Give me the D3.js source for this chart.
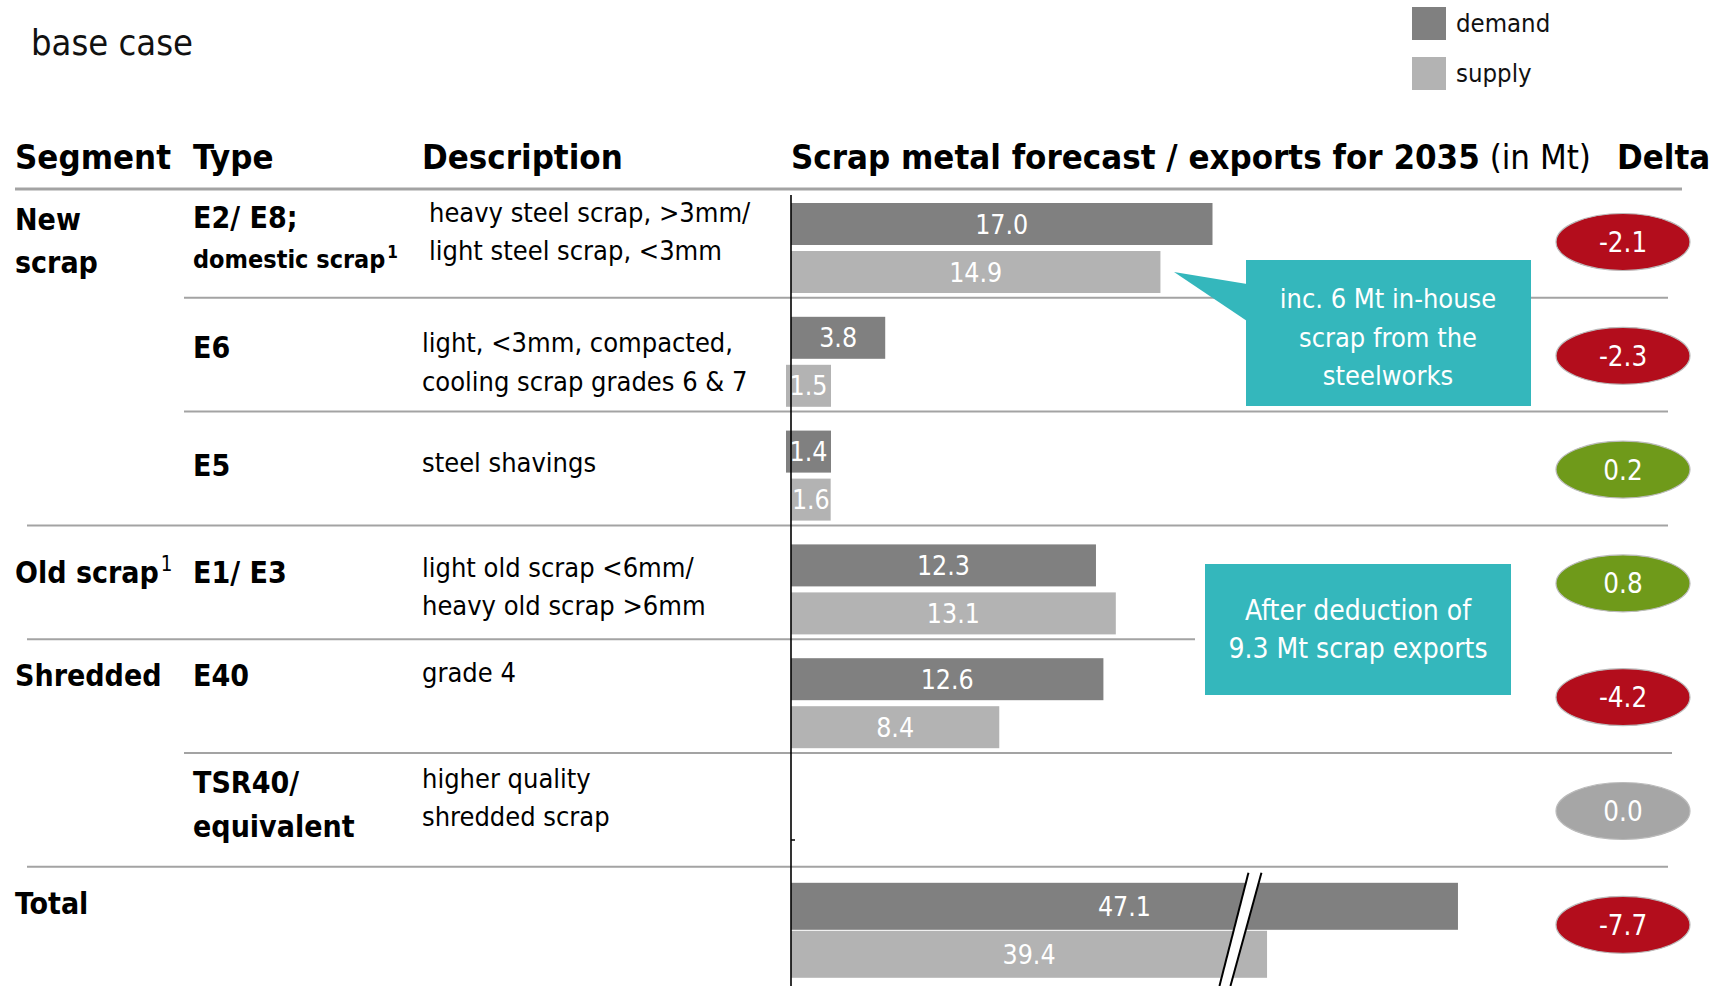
<!DOCTYPE html>
<html>
<head>
<meta charset="utf-8">
<script src="https://cdn.jsdelivr.net/npm/d3@7"></script>
<style>
  html, body { margin: 0; padding: 0; background: #fff; }
  svg { display: block; }
  text { font-family: "DejaVu Sans Condensed", "Liberation Sans Narrow", sans-serif; }
</style>
</head>
<body>
<svg id="chart" width="1716" height="986"></svg>
<script>
// ---- data ----
const segments   = ["New|scrap", "", "", "Old scrap¹", "Shredded", "", "Total"];
const types      = ["E2/ E8;|domestic scrap¹", "E6", "E5", "E1/ E3", "E40", "TSR40/|equivalent", ""];
const descriptions = [
  "heavy steel scrap, >3mm/|light steel scrap, <3mm",
  "light, <3mm, compacted,|cooling scrap grades 6 & 7",
  "steel shavings",
  "light old scrap <6mm/|heavy old scrap >6mm",
  "grade 4",
  "higher quality|shredded scrap",
  ""
];
const demand = [17.0, 3.8, 1.4, 12.3, 12.6, null, 47.1];
const supply = [14.9, 1.5, 1.6, 13.1, 8.4, null, 39.4];
const delta  = [-2.1, -2.3, 0.2, 0.8, -4.2, 0.0, -7.7];
const seriesNames = ["demand", "supply"];
const calloutTexts = [
  ["inc. 6 Mt in-house", "scrap from the", "steelworks"],
  ["After deduction of", "9.3 Mt scrap exports"]
];

// ---- styling ----
const C = {
  demand: "#808080",
  supply: "#b3b3b3",
  teal: "#34b7bc",
  neg: "#b30d1c",
  pos: "#6f9a1a",
  zero: "#a6a6a6",
  rule: "#a3a3a3"
};
const FONT_LIGHT = 300;

const svg = d3.select("#chart");

// value scale for the bars
const axisX = 791;
const x = d3.scaleLinear().domain([0, 17]).range([axisX, 1212.5]);
// the total row is drawn with a broken axis: this many Mt are cut out
const totalCut = 20.2;
const totalIndex = 6;

// row positions
const rowY = d3.scaleLinear().domain([0, 1]).range([184, 297.8]);
const barH = i => (i === totalIndex ? 47 : 42);
const demandTop = i => rowY(i) + (i === totalIndex ? 16 : 19);

const color = d3.scaleOrdinal().domain(seriesNames).range([C.demand, C.supply]);

// ---- title and legend ----
svg.append("text").attr("x", 31).attr("y", 55)
  .attr("font-size", 36).attr("font-weight", FONT_LIGHT).attr("fill", "#111")
  .text("base case");

const legend = svg.append("g");
seriesNames.forEach((s, k) => {
  legend.append("rect").attr("x", 1412).attr("y", 7 + 50 * k)
    .attr("width", 34).attr("height", 33).attr("fill", color(s));
  legend.append("text").attr("x", 1456).attr("y", 32 + 50 * k)
    .attr("font-size", 25.5).attr("fill", "#111").text(s);
});

// ---- column headers ----
const head = svg.append("g").attr("font-size", 34.5).attr("fill", "#000");
head.append("text").attr("x", 15).attr("y", 169).attr("font-weight", "bold").text("Segment");
head.append("text").attr("x", 193).attr("y", 169).attr("font-weight", "bold").text("Type");
head.append("text").attr("x", 422).attr("y", 169).attr("font-weight", "bold").text("Description");
const ht = head.append("text").attr("x", 791).attr("y", 169);
ht.append("tspan").attr("font-weight", "bold").text("Scrap metal forecast / exports for 2035");
ht.append("tspan").attr("font-weight", FONT_LIGHT).text(" (in Mt)");
head.append("text").attr("x", 1617).attr("y", 169).attr("font-weight", "bold").text("Delta");

svg.append("line").attr("x1", 15).attr("x2", 1682).attr("y1", 189).attr("y2", 189)
  .attr("stroke", C.rule).attr("stroke-width", 3);

// ---- row separators ----
const ruleExtents = [[184, 1668], [184, 1668], [27, 1668], [27, 1195], [184, 1672], [27, 1668]];
svg.append("g").selectAll("line").data(ruleExtents).join("line")
  .attr("x1", d => d[0]).attr("x2", d => d[1])
  .attr("y1", (d, i) => rowY(i + 1)).attr("y2", (d, i) => rowY(i + 1))
  .attr("stroke", C.rule).attr("stroke-width", 2);

// ---- text columns ----
function multiline(g, str, xPos, baselines, opts) {
  if (!str) return;
  str.split("|").forEach((line, k) => {
    const size = (opts.sizes && opts.sizes[k]) || opts.size;
    const t = g.append("text").attr("x", xPos).attr("y", baselines[k])
      .attr("font-size", size)
      .attr("font-weight", opts.weight).attr("fill", "#000");
    const m = line.match(/^(.*)¹$/);
    if (m) {
      t.append("tspan").text(m[1]);
      t.append("tspan").attr("font-size", 0.68 * size)
        .attr("dy", -0.4 * size).attr("dx", 2)
        .attr("font-weight", opts.supWeight || FONT_LIGHT).text("1");
    } else {
      t.text(line);
    }
  });
}

// baseline offsets within each row
const segBase  = [[46, 89], [], [], [58], [47], [], [47]];
const typeBase = [[44, 84], [60], [64], [58], [47], [40, 84], []];
const descBase = [[38, 76], [54, 93], [60], [52, 90], [43], [35, 73], []];
const descX    = [429, 422, 422, 422, 422, 422, 422];

const txt = svg.append("g");
segments.forEach((s, i) => multiline(txt, s, 15, segBase[i].map(o => rowY(i) + o), { size: 30, weight: "bold" }));
types.forEach((s, i) => multiline(txt, s, 193, typeBase[i].map(o => rowY(i) + o),
  { size: 30, sizes: i === 0 ? [30, 25] : null, weight: "bold", supWeight: "bold" }));
descriptions.forEach((s, i) => multiline(txt, s, descX[i], descBase[i].map(o => rowY(i) + o), { size: 27, weight: FONT_LIGHT }));

// ---- bars ----
const bars = [];
demand.forEach((v, i) => { if (v != null) bars.push({ row: i, series: "demand", value: v }); });
supply.forEach((v, i) => { if (v != null) bars.push({ row: i, series: "supply", value: v }); });

const minBarW = 44;   // tiny bars are widened so their label fits
const barEnd = d => d.row === totalIndex ? x(d.value - totalCut) : x(d.value);
const isTiny = d => barEnd(d) - axisX < minBarW;
const barX0 = d => isTiny(d) && (d.series === "demand" || d.value < 1.55) ? axisX - 5 : axisX;
const barW = d => Math.max(barEnd(d) - axisX, barX0(d) < axisX ? minBarW + 1 : minBarW - 6);
const barTop = d => demandTop(d.row) + (d.series === "supply" ? 48 : 0);

const bg = svg.append("g");
bg.selectAll("rect").data(bars).join("rect")
  .attr("x", barX0).attr("y", barTop)
  .attr("width", barW).attr("height", d => barH(d.row))
  .attr("fill", d => color(d.series));

bg.selectAll("text").data(bars).join("text")
  .attr("x", d => barX0(d) + barW(d) / 2)
  .attr("y", d => barTop(d) + barH(d.row) / 2)
  .attr("dy", "0.36em")
  .attr("text-anchor", "middle")
  .attr("font-size", 26.5).attr("font-weight", FONT_LIGHT)
  .attr("fill", "#fff")
  .text(d => d3.format(".1f")(d.value));

// axis-break marks on the total row
const breakAt = x(18.45);
const bTop = rowY(totalIndex) + 6, bBot = 986;
const slant = 29;
const bw = 13;
svg.append("polygon")
  .attr("points", [[breakAt, bTop], [breakAt + bw, bTop], [breakAt + bw - slant - 2, bBot], [breakAt - slant, bBot]].map(p => p.join(",")).join(" "))
  .attr("fill", "#fff");
[[0, 0], [bw, -2]].forEach(([o, e]) => {
  svg.append("line")
    .attr("x1", breakAt + o).attr("y1", bTop)
    .attr("x2", breakAt + o - slant + e).attr("y2", bBot)
    .attr("stroke", "#000").attr("stroke-width", 2);
});

// value axis
svg.append("line").attr("x1", axisX).attr("x2", axisX).attr("y1", 195).attr("y2", 986)
  .attr("stroke", "#000").attr("stroke-width", 1.6);
svg.append("line").attr("x1", axisX).attr("x2", axisX + 4).attr("y1", 840).attr("y2", 840)
  .attr("stroke", "#000").attr("stroke-width", 1.5);

// ---- delta bubbles ----
const deltaColor = v => v < 0 ? C.neg : (v > 0 ? C.pos : C.zero);
const dg = svg.append("g").selectAll("g").data(delta).join("g")
  .attr("transform", (d, i) => `translate(1623,${rowY(i) + 58})`);
dg.append("ellipse").attr("rx", 67).attr("ry", 28.5)
  .attr("fill", deltaColor).attr("stroke", "#bbb").attr("stroke-width", 1.2);
dg.append("text").attr("text-anchor", "middle").attr("dy", "0.36em")
  .attr("font-size", 27.5).attr("font-weight", FONT_LIGHT).attr("fill", "#fff")
  .text(d => d3.format(".1f")(d).replace("−", "-"));

// ---- callouts ----
const c1 = svg.append("g");
c1.append("polygon").attr("points", "1174,272 1247,284 1247,321").attr("fill", C.teal);
c1.append("rect").attr("x", 1246).attr("y", 260).attr("width", 285).attr("height", 146).attr("fill", C.teal);
calloutTexts[0].forEach((t, k) => c1.append("text").attr("x", 1388).attr("y", 308 + 38.7 * k)
  .attr("text-anchor", "middle").attr("font-size", 27).attr("font-weight", FONT_LIGHT)
  .attr("fill", "#fff").text(t));

const c2 = svg.append("g");
c2.append("rect").attr("x", 1205).attr("y", 564).attr("width", 306).attr("height", 131).attr("fill", C.teal);
calloutTexts[1].forEach((t, k) => c2.append("text").attr("x", 1358).attr("y", 620 + 37.5 * k)
  .attr("text-anchor", "middle").attr("font-size", 28).attr("font-weight", FONT_LIGHT)
  .attr("fill", "#fff").text(t));
</script>
</body>
</html>
